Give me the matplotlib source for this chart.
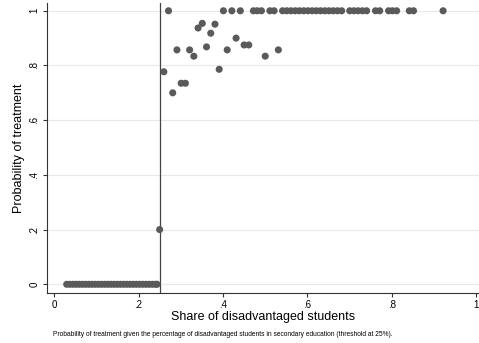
import matplotlib
matplotlib.use("Agg")
import matplotlib.pyplot as plt

plt.rcParams['font.family'] = ['Liberation Sans', 'DejaVu Sans']

# Data
x_zero = [0.030, 0.0375, 0.045, 0.0525, 0.060, 0.0675, 0.075, 0.0825, 0.090,
          0.0975, 0.105, 0.1125, 0.120, 0.1275, 0.135, 0.1425, 0.150, 0.1575,
          0.165, 0.1725, 0.180, 0.1875, 0.195, 0.2025, 0.210, 0.2175, 0.225,
          0.2325, 0.240, 0.244]
y_zero = [0.0] * len(x_zero)

x_mid = [0.25, 0.260, 0.281, 0.291, 0.301, 0.311, 0.321, 0.331, 0.341, 0.351,
         0.361, 0.371, 0.381, 0.391, 0.410, 0.431, 0.450, 0.461, 0.500, 0.531]
y_mid = [0.20, 0.777, 0.700, 0.857, 0.735, 0.735, 0.857, 0.834, 0.937, 0.954,
         0.868, 0.918, 0.951, 0.786, 0.857, 0.900, 0.875, 0.875, 0.834, 0.857]

x_one = [0.271, 0.401, 0.421, 0.441, 0.472, 0.481, 0.491, 0.511, 0.521,
         0.541, 0.551, 0.561, 0.571, 0.581, 0.591, 0.601, 0.611, 0.621, 0.631,
         0.641, 0.651, 0.661, 0.671, 0.681,
         0.700, 0.710, 0.720, 0.730, 0.740, 0.761, 0.771, 0.792, 0.801, 0.811,
         0.841, 0.851, 0.921]
y_one = [1.0] * len(x_one)

threshold = 0.25
xticks = [0, 0.2, 0.4, 0.6, 0.8, 1]
xticklabels = ['0', '.2', '.4', '.6', '.8', '1']
yticks = [0, 0.2, 0.4, 0.6, 0.8, 1]
yticklabels = ['0', '.2', '.4', '.6', '.8', '1']

fig = plt.figure(figsize=(4.79, 3.43), dpi=100)
ax = fig.add_axes([0.0975, 0.1467, 0.9025, 0.8446])

col = '#5a5a5a'
for xs, ys in [(x_zero, y_zero), (x_mid, y_mid), (x_one, y_one)]:
    ax.scatter(xs, ys, s=26, color=col, edgecolors='none', zorder=3)

ax.axvline(threshold, color='#444444', lw=0.9, zorder=2)

ax.set_xlim(-0.0173, 1.006)
ax.set_ylim(-0.0307, 1.0285)

ax.set_xticks(xticks)
ax.set_xticklabels(xticklabels, fontsize=7)
ax.set_yticks(yticks)
ax.set_yticklabels(yticklabels, fontsize=7, rotation=90, va='center')

ax.yaxis.grid(True, color='#eaeaea', lw=0.9, zorder=0)
ax.set_axisbelow(True)

for s in ['top', 'right']:
    ax.spines[s].set_visible(False)
for s in ['left', 'bottom']:
    ax.spines[s].set_color('#333333')
    ax.spines[s].set_linewidth(0.8)

ax.tick_params(axis='both', direction='out', length=3.2, width=0.8, color='#333333', pad=2)

ax.set_xlabel('Share of disadvantaged students', fontsize=9, labelpad=1)
ax.set_ylabel('Probability of treatment', fontsize=9, labelpad=3)

fig.text(0.465, 1 - 334.3 / 343,
         'Probability of treatment given the percentage of disadvantaged students in secondary education (threshold at 25%).',
         fontsize=4.8, ha='center', va='center')

fig.savefig('out.png', dpi=100)
